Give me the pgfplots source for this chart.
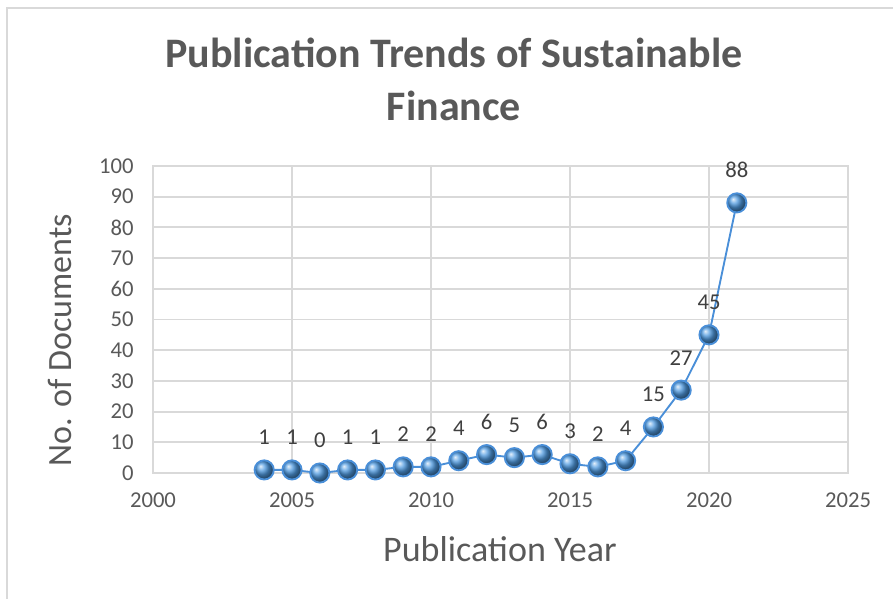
\documentclass[border=0pt]{standalone}
\usepackage{fontspec}
\setmainfont{Carlito}
\usepackage{pgfplots}
\pgfplotsset{compat=1.18}
\definecolor{gridgray}{HTML}{D9D9D9}
\definecolor{txtgray}{HTML}{595959}
\definecolor{lblgray}{HTML}{404040}
\definecolor{lineblue}{HTML}{4A8FD8}
\definecolor{ballblue}{HTML}{4F9AE0}
\begin{document}
\begin{tikzpicture}
\path[use as bounding box] (0pt,0pt) rectangle (669.75pt,-449.25pt);
\draw[gridgray, line width=1.5pt] (5.25pt,-449.25pt) -- (5.25pt,-6pt) -- (669.75pt,-6pt);
\node[anchor=base, font=\fontsize{31.5}{37}\selectfont\bfseries, text=txtgray, inner sep=0pt] at (340.5pt,-51pt) {Publication Trends of Sustainable};
\node[anchor=base, font=\fontsize{31.5}{37}\selectfont\bfseries, text=txtgray, inner sep=0pt] at (340.5pt,-90.5pt) {Finance};
\node[anchor=base, rotate=90, font=\fontsize{25.5}{30}\selectfont, text=txtgray, inner sep=0pt] at (53.8pt,-255pt) {No. of Documents};
\node[anchor=base, font=\fontsize{27}{32}\selectfont, text=txtgray, inner sep=0pt] at (375pt,-420.75pt) {Publication Year};
\begin{axis}[
  at={(114.75pt,-354.75pt)}, anchor=south west,
  scale only axis, width=521.25pt, height=230.25pt,
  xmin=2000, xmax=2025, ymin=0, ymax=100,
  xtick={2000,2005,...,2025}, ytick={0,10,...,100},
  grid=major,
  major grid style={gridgray, line width=1.4pt},
  axis line style={gridgray, line width=1.4pt},
  major tick length=0pt,
  xticklabel style={/pgf/number format/1000 sep={}},
  /pgf/number format/assume math mode=true,
  tick label style={font=\fontsize{17}{20}\selectfont, text=txtgray},
  xticklabel style={yshift=-11pt},
  yticklabel style={xshift=-11pt},
  nodes near coords,
  every node near coord/.append style={font=\fontsize{17}{20}\selectfont, text=lblgray, anchor=south, inner sep=0pt, yshift=18pt},
  clip=false,
]
\addplot[color=lineblue, line width=1.4pt, mark=ball, mark size=7.2pt, mark options={ball color=ballblue}] coordinates {
(2004,1) (2005,1) (2006,0) (2007,1) (2008,1) (2009,2) (2010,2) (2011,4) (2012,6) (2013,5) (2014,6) (2015,3) (2016,2) (2017,4) (2018,15) (2019,27) (2020,45) (2021,88)
};
\end{axis}
\end{tikzpicture}
\end{document}
